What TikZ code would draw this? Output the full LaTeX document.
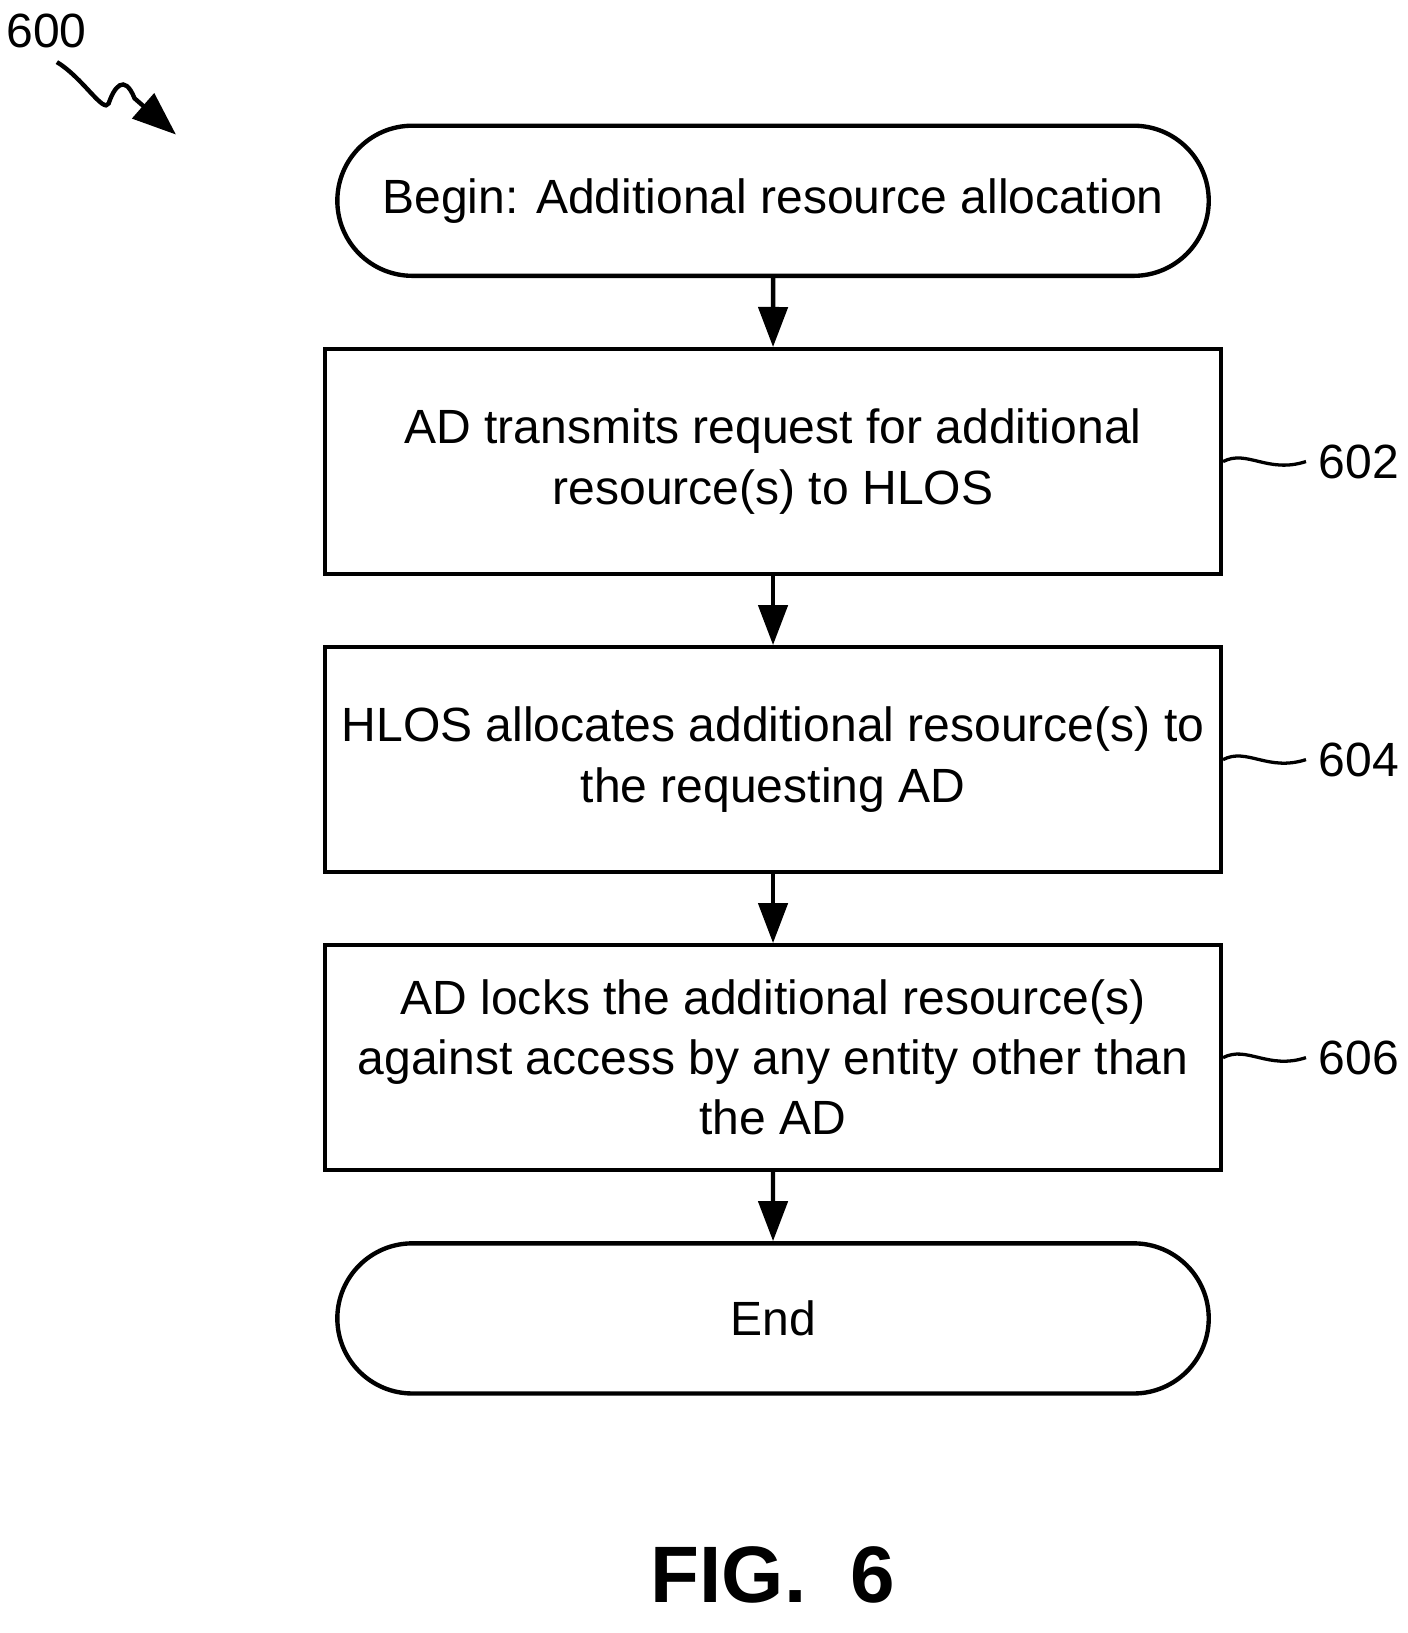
\documentclass[tikz,border=0pt]{standalone}
\usepackage{fontspec}
\setmainfont{Liberation Sans}
\usetikzlibrary{arrows.meta,shapes.misc}
\begin{document}
\begin{tikzpicture}[x=0.01cm,y=-0.01cm,
  box/.style={draw,line width=1.2pt,minimum width=865\pgflinewidth*0+8.65cm,minimum height=2.17cm,align=center,inner sep=0pt,font=\fontsize{13.2}{16.5}\selectfont},
  term/.style={draw,line width=1.2pt,rounded rectangle,minimum width=8.65cm,minimum height=1.45cm,font=\fontsize{13.2}{16.5}\selectfont},
  arr/.style={-{Triangle[length=11pt,width=8pt]},line width=1.2pt},
  lbl/.style={font=\fontsize{13.2}{16}\selectfont},
  sq/.style={line width=0.9pt}]
\useasboundingbox (0,0) rectangle (1360,1578);
\node[term] (b) at (747,194) {Begin: Additional resource allocation};
\node[box] (s1) at (747,446) {AD transmits request for additional\\resource(s) to HLOS};
\node[box] (s2) at (747,734) {HLOS allocates additional resource(s) to\\the requesting AD};
\node[box] (s3) at (747,1022) {AD locks the additional resource(s)\\against access by any entity other than\\the AD};
\node[term] (e) at (747,1274) {End};
\draw[arr] (b) -- (s1);
\draw[arr] (s1) -- (s2);
\draw[arr] (s2) -- (s3);
\draw[arr] (s3) -- (e);
\foreach \n/\y/\t in {s1/446/602,s2/734/604,s3/1022/606}{
  \node[lbl,anchor=west] (l\t) at (1262,\y) {\t};
  \draw[sq] (\n.east|-0,\y) .. controls (1205,\y-12) and (1225,\y+12) .. (l\t.west);
}
\node[lbl] (n600) at (45,30) {600};
\coordinate (a0) at (55,60);
\coordinate (a1) at (170,130);
\draw[line width=1.2pt,-{Triangle[length=12pt,width=9pt]}] (a0) .. controls (80,75) and (100,110) .. (105,100) .. controls (110,85) and (120,70) .. (130,95) -- (a1);
\node[font=\fontsize{22}{26}\selectfont\bfseries] (fig) at (747,1522) {FIG.\ \ 6};
\end{tikzpicture}
\end{document}
